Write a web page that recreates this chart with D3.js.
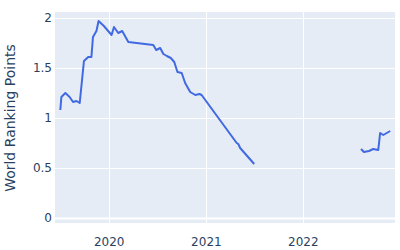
<!DOCTYPE html>
<html>
<head>
<meta charset="utf-8">
<script src="https://cdn.jsdelivr.net/npm/d3@7"></script>
<style>
  body { margin: 0; background: #fff; }
  svg { display: block; font-family: "DejaVu Sans", Verdana, sans-serif; }
</style>
</head>
<body>
<div id="chart"></div>
<script>
// --------------- Data ---------------
const dates = [
  "2019-07-03", "2019-07-07", "2019-07-22", "2019-08-07", "2019-08-20",
  "2019-09-02", "2019-09-14", "2019-09-30", "2019-10-16", "2019-10-28",
  "2019-11-03", "2019-11-16", "2019-11-24", "2019-12-14", "2020-01-12",
  "2020-01-21", "2020-02-06", "2020-02-21", "2020-03-15", "2020-06-17",
  "2020-06-28", "2020-07-13", "2020-07-25", "2020-08-07", "2020-08-22",
  "2020-09-04", "2020-09-16", "2020-10-02", "2020-10-15", "2020-11-03",
  "2020-11-22", "2020-12-08", "2020-12-16", "2021-04-27", "2021-05-03",
  "2021-05-10", "2021-07-02",
  // gap
  "2021-07-09",
  "2022-08-08", "2022-08-19", "2022-09-07", "2022-09-23", "2022-10-12",
  "2022-10-19", "2022-10-31", "2022-11-13", "2022-11-26"
];
const points = [
  1.08, 1.21, 1.25, 1.21, 1.16,
  1.17, 1.15, 1.57, 1.61, 1.61,
  1.81, 1.87, 1.97, 1.92, 1.83,
  1.91, 1.85, 1.87, 1.76, 1.73,
  1.68, 1.70, 1.64, 1.62, 1.60,
  1.56, 1.46, 1.45, 1.35, 1.26,
  1.23, 1.24, 1.23, 0.75, 0.74,
  0.70, 0.54,
  null,
  0.69, 0.66, 0.67, 0.69, 0.68,
  0.85, 0.83, 0.85, 0.87
];
const yTicks = [0, 0.5, 1, 1.5, 2];
const xTickYears = [2020, 2021, 2022];

// --------------- Constants ---------------
const WIDTH = 400;
const HEIGHT = 250;
const margin = { top: 12, right: 5, bottom: 27, left: 55 };
const BG = "#e5ecf6";
const LINE_COLOR = "#4169e1";
const TEXT_COLOR = "#2a3f5f";

const data = dates.map((d, i) => ({ date: new Date(d), value: points[i] }));

const svg = d3.select("#chart").append("svg")
  .attr("width", WIDTH)
  .attr("height", HEIGHT);

const x = d3.scaleTime()
  .domain([new Date("2019-06-13"), new Date("2022-12-14")])
  .range([margin.left, WIDTH - margin.right]);

const y = d3.scaleLinear()
  .domain([-0.05, 2.06])
  .range([HEIGHT - margin.bottom, margin.top]);

// plot background
svg.append("rect")
  .attr("x", margin.left)
  .attr("y", margin.top)
  .attr("width", WIDTH - margin.left - margin.right)
  .attr("height", HEIGHT - margin.top - margin.bottom)
  .attr("fill", BG);

// gridlines
const xTicks = xTickYears.map((yr) => new Date(yr, 0, 1));
svg.append("g")
  .selectAll("line")
  .data(xTicks)
  .join("line")
  .attr("x1", (d) => Math.round(x(d)) + 0.5)
  .attr("x2", (d) => Math.round(x(d)) + 0.5)
  .attr("y1", margin.top)
  .attr("y2", HEIGHT - margin.bottom)
  .attr("stroke", "#fff")
  .attr("stroke-width", 1);

svg.append("g")
  .selectAll("line")
  .data(yTicks)
  .join("line")
  .attr("x1", margin.left)
  .attr("x2", WIDTH - margin.right)
  .attr("y1", (d) => Math.round(y(d)) + 0.5)
  .attr("y2", (d) => Math.round(y(d)) + 0.5)
  .attr("stroke", "#fff")
  .attr("stroke-width", (d) => (d === 0 ? 2 : 1));

// axes
const xAxis = svg.append("g")
  .attr("transform", `translate(0,${HEIGHT - margin.bottom})`)
  .call(d3.axisBottom(x).tickValues(xTicks).tickFormat(d3.timeFormat("%Y")).tickSize(0).tickPadding(14));
xAxis.select(".domain").remove();
xAxis.selectAll("text").attr("fill", TEXT_COLOR).attr("font-size", 12)
  .attr("font-family", "DejaVu Sans, sans-serif");

const yAxis = svg.append("g")
  .attr("transform", `translate(${margin.left},0)`)
  .call(d3.axisLeft(y).tickValues(yTicks).tickFormat(d3.format("~g")).tickSize(0).tickPadding(3));
yAxis.select(".domain").remove();
yAxis.selectAll("text").attr("fill", TEXT_COLOR).attr("font-size", 12)
  .attr("font-family", "DejaVu Sans, sans-serif");

// y title
svg.append("text")
  .attr("transform", `translate(15,${y(1)}) rotate(-90)`)
  .attr("text-anchor", "middle")
  .attr("fill", TEXT_COLOR)
  .attr("font-size", 14)
  .text("World Ranking Points");

// line
const line = d3.line()
  .defined((d) => d.value !== null)
  .x((d) => x(d.date))
  .y((d) => y(d.value));

svg.append("path")
  .datum(data)
  .attr("d", line)
  .attr("fill", "none")
  .attr("stroke", LINE_COLOR)
  .attr("stroke-width", 2)
  .attr("stroke-linejoin", "round");
</script>
</body>
</html>
